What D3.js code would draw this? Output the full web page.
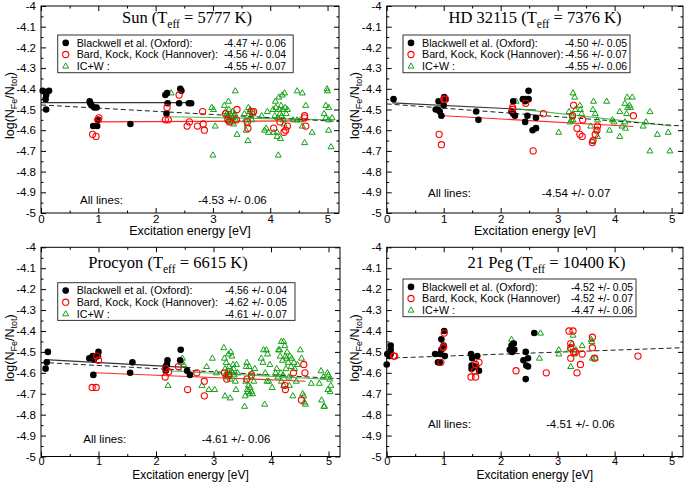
<!DOCTYPE html>
<html><head><meta charset="utf-8">
<script src="https://cdn.jsdelivr.net/npm/d3@7"></script>
<style>body{margin:0;background:#fff}svg{display:block}</style>
</head><body>
<svg id="c" width="685" height="482"></svg>
<script>
// ---------- data ----------
const xTicks = [0,1,2,3,4,5];
const xTickLabels = ["0","1","2","3","4","5"];
const yTicks = [-5,-4.9,-4.8,-4.7,-4.6,-4.5,-4.4,-4.3,-4.2,-4.1,-4];
const yTickLabels = ["-5","-4.9","-4.8","-4.7","-4.6","-4.5","-4.4","-4.3","-4.2","-4.1","-4"];
const starNames = ["Sun","HD 32115","Procyon","21 Peg"];
const teffValues = ["5777","7376","6615","10400"];
const seriesLabels = ["Blackwell et al. (Oxford):","Bard, Kock, Kock (Hannover):","IC+W :"];
const seriesLabelsPeg = ["Blackwell et al. (Oxford):","Bard, Kock, Kock (Hannover)","IC+W :"];
const sunLegend = ["-4.47 +/- 0.06","-4.56 +/- 0.04","-4.55 +/- 0.07"];
const hdLegend = ["-4.50 +/- 0.05","-4.56 +/- 0.07","-4.55 +/- 0.06"];
const procLegend = ["-4.56 +/- 0.04","-4.62 +/- 0.05","-4.61 +/- 0.07"];
const pegLegend = ["-4.52 +/- 0.05","-4.52 +/- 0.07","-4.47 +/- 0.06"];
const allLinesValues = ["-4.53 +/- 0.06","-4.54 +/- 0.07","-4.61 +/- 0.06","-4.51 +/- 0.06"];

const sunOxford = [[0.03,-4.41],[0.14,-4.41],[0.09,-4.43],[0.08,-4.45],[0.09,-4.50],
 [0.85,-4.46],[0.86,-4.47],[0.88,-4.48],[0.93,-4.49],[0.97,-4.49],[0.91,-4.58],[0.98,-4.58],[1.0,-4.55],
 [1.56,-4.57],
 [2.17,-4.43],[2.20,-4.42],[2.21,-4.47],[2.19,-4.52],[2.41,-4.47],[2.43,-4.40],[2.45,-4.41],[2.58,-4.47],[2.62,-4.47]];
const sunHannover = [[0.90,-4.62],[0.96,-4.63],[1.01,-4.54],[0.99,-4.55],
 [2.20,-4.49],[2.17,-4.55],[2.22,-4.55],[2.41,-4.43],
 [2.55,-4.58],[2.59,-4.56],[2.73,-4.58],[2.83,-4.57],[2.85,-4.60],[2.82,-4.51],
 [3.22,-4.52],[3.26,-4.55],[3.29,-4.56],[3.41,-4.55],[3.42,-4.50],[3.61,-4.59],[3.60,-4.56],[3.68,-4.51],[3.71,-4.51],
 [4.06,-4.59],[4.17,-4.56],[4.24,-4.61],[4.27,-4.60],[4.30,-4.58],[4.60,-4.53],[4.60,-4.54],[4.62,-4.58]];
const sunICW = [[2.27,-4.42],
 [2.98,-4.49],[3.01,-4.50],[3.04,-4.58],[3.00,-4.72],
 [3.20,-4.48],[3.22,-4.51],[3.24,-4.52],[3.25,-4.53],[3.27,-4.46],[3.28,-4.50],[3.29,-4.54],[3.30,-4.52],[3.31,-4.55],[3.32,-4.53],[3.33,-4.56],[3.34,-4.51],[3.35,-4.54],[3.36,-4.57],[3.37,-4.53],[3.39,-4.41],[3.40,-4.55],[3.42,-4.62],[3.29,-4.56],[3.26,-4.55],[3.38,-4.52],
 [3.55,-4.52],[3.57,-4.55],[3.58,-4.60],[3.60,-4.57],[3.61,-4.65],[3.62,-4.49],[3.64,-4.51],[3.65,-4.50],[3.66,-4.53],[3.68,-4.55],[3.70,-4.52],
 [3.85,-4.53],[3.90,-4.60],[3.93,-4.59],[3.95,-4.51],[3.97,-4.61],
 [4.05,-4.50],[4.06,-4.61],[4.08,-4.53],[4.09,-4.46],[4.10,-4.49],[4.12,-4.61],[4.13,-4.54],[4.14,-4.72],[4.15,-4.44],[4.16,-4.50],[4.17,-4.52],[4.18,-4.64],[4.19,-4.48],[4.20,-4.53],[4.21,-4.43],[4.22,-4.50],[4.23,-4.55],[4.25,-4.42],[4.26,-4.49],[4.28,-4.52],[4.30,-4.50],[4.12,-4.63],[4.24,-4.57],
 [4.40,-4.55],[4.47,-4.41],[4.47,-4.55],[4.53,-4.55],[4.56,-4.42],[4.56,-4.58],[4.60,-4.66],[4.62,-4.48],[4.73,-4.61],
 [4.94,-4.52],[4.97,-4.48],[4.97,-4.54],[4.99,-4.40],[5.00,-4.41],[5.02,-4.49],[5.02,-4.55],[5.02,-4.60],[5.06,-4.68],[5.08,-4.54]];
const sunOxfordFit = [[0,-4.467],[2.62,-4.467]];
const sunHannoverFit = [[0.95,-4.56],[4.62,-4.555]];
const sunICWFit = [[2.25,-4.535],[5.05,-4.55]];
const sunAllFit = [[0,-4.478],[5.2,-4.558]];

const hdOxford = [[0.12,-4.45],
 [0.86,-4.50],[0.90,-4.50],[0.91,-4.46],[0.93,-4.51],[0.96,-4.53],[1.00,-4.48],[1.01,-4.44],[1.03,-4.45],
 [1.57,-4.51],[1.61,-4.55],
 [2.19,-4.51],[2.22,-4.46],[2.22,-4.52],[2.25,-4.53],[2.39,-4.45],[2.43,-4.46],[2.43,-4.56],[2.45,-4.45],[2.47,-4.53],[2.49,-4.45],[2.49,-4.41],[2.56,-4.60],[2.62,-4.59],[2.62,-4.54]];
const hdHannover = [[0.92,-4.62],[0.96,-4.67],[1.00,-4.45],[1.03,-4.45],
 [2.21,-4.49],[2.21,-4.50],[2.44,-4.47],
 [2.57,-4.70],[2.75,-4.52],
 [3.26,-4.53],[3.28,-4.48],[3.34,-4.59],[3.39,-4.62],[3.43,-4.63],[3.44,-4.55],[3.61,-4.66],[3.62,-4.65],[3.66,-4.62],[3.69,-4.60],[3.70,-4.58],[4.33,-4.53]];
const hdICW = [[2.27,-4.46],[3.02,-4.61],[3.20,-4.51],[3.22,-4.56],[3.24,-4.55],[3.26,-4.53],[3.27,-4.42],[3.27,-4.55],[3.30,-4.44],[3.31,-4.50],[3.39,-4.48],[3.40,-4.50],[3.42,-4.52],
 [3.58,-4.58],[3.61,-4.65],[3.62,-4.50],[3.63,-4.46],[3.66,-4.52],[3.68,-4.60],[3.70,-4.55],[3.70,-4.63],
 [3.86,-4.46],[3.91,-4.60],[3.96,-4.55],[3.99,-4.56],[4.09,-4.51],[4.09,-4.63],[4.13,-4.58],[4.18,-4.47],[4.18,-4.56],[4.19,-4.59],[4.21,-4.52],[4.22,-4.44],[4.23,-4.49],[4.26,-4.48],[4.28,-4.49],[4.31,-4.44],
 [4.50,-4.58],[4.55,-4.56],[4.62,-4.51],[4.62,-4.70],[4.75,-4.62],[4.94,-4.61],[4.97,-4.70]];
const hdOxfordFit = [[0.1,-4.468],[2.62,-4.503]];
const hdHannoverFit = [[1.0,-4.53],[4.33,-4.582]];
const hdICWFit = [[2.3,-4.497],[5.0,-4.58]];
const hdAllFit = [[0,-4.473],[5.2,-4.58]];

const procOxford = [[0.12,-4.50],[0.10,-4.55],[0.08,-4.58],
 [0.84,-4.53],[0.90,-4.52],[0.92,-4.535],[0.99,-4.52],[1.00,-4.50],[0.91,-4.61],
 [1.59,-4.55],[1.55,-4.60],
 [2.20,-4.54],[2.17,-4.57],[2.17,-4.59],[2.19,-4.56],[2.42,-4.54],[2.43,-4.49],[2.54,-4.59],[2.59,-4.61]];
const procHannover = [[0.89,-4.67],[0.96,-4.67],[0.97,-4.52],[1.00,-4.54],
 [2.16,-4.62],[2.17,-4.58],[2.22,-4.595],[2.39,-4.57],[2.55,-4.68],[2.71,-4.60],[2.84,-4.64],[2.84,-4.71],
 [3.19,-4.60],[3.23,-4.63],[3.26,-4.61],[3.58,-4.63],[3.66,-4.61],
 [4.24,-4.66],[4.25,-4.68],[4.39,-4.60],[4.53,-4.73],[4.57,-4.56],[4.59,-4.60]];
const procICW = [[2.21,-4.66],[2.46,-4.53],[2.48,-4.56],[2.44,-4.55],
 [2.80,-4.66],[2.88,-4.57],[2.92,-4.68],[2.98,-4.53],[3.02,-4.68],[3.05,-4.60],
 [3.18,-4.48],[3.19,-4.53],[3.20,-4.58],[3.21,-4.61],[3.22,-4.55],[3.23,-4.60],[3.24,-4.62],[3.25,-4.59],[3.26,-4.51],[3.27,-4.57],[3.28,-4.61],[3.29,-4.63],[3.30,-4.50],[3.31,-4.59],[3.32,-4.52],[3.33,-4.60],[3.34,-4.56],[3.35,-4.58],[3.36,-4.61],[3.38,-4.64],[3.39,-4.68],[3.40,-4.56],[3.20,-4.71],[3.29,-4.72],[3.42,-4.60],
 [3.54,-4.76],[3.55,-4.71],[3.56,-4.64],[3.57,-4.57],[3.58,-4.55],[3.59,-4.68],[3.60,-4.69],[3.61,-4.66],[3.62,-4.57],[3.63,-4.70],[3.64,-4.67],[3.65,-4.62],[3.66,-4.69],[3.67,-4.60],[3.68,-4.70],[3.70,-4.64],[3.72,-4.58],
 [3.83,-4.53],[3.86,-4.55],[3.87,-4.49],[3.89,-4.75],[3.90,-4.60],[3.92,-4.49],[3.93,-4.64],[3.94,-4.51],[3.96,-4.64],[3.98,-4.56],[4.02,-4.67],
 [4.08,-4.60],[4.10,-4.58],[4.12,-4.62],[4.13,-4.49],[4.15,-4.49],[4.16,-4.52],[4.17,-4.60],[4.18,-4.45],[4.18,-4.64],[4.20,-4.54],[4.21,-4.61],[4.22,-4.45],[4.22,-4.66],[4.24,-4.47],[4.25,-4.52],[4.26,-4.58],[4.27,-4.53],[4.28,-4.50],[4.30,-4.55],[4.31,-4.62],[4.32,-4.66],[4.33,-4.52],[4.35,-4.57],[4.36,-4.53],[4.38,-4.71],[4.40,-4.55],[4.41,-4.58],[4.44,-4.64],[4.46,-4.56],
 [4.51,-4.49],[4.53,-4.53],[4.55,-4.70],[4.57,-4.71],[4.58,-4.74],[4.60,-4.75],[4.70,-4.65],
 [4.84,-4.65],[4.87,-4.59],[4.88,-4.73],[4.91,-4.62],[4.92,-4.76],[4.93,-4.76],[4.98,-4.60],[5.00,-4.61],[5.02,-4.63],[5.03,-4.69],[5.04,-4.66],[4.99,-4.68]];
const procOxfordFit = [[0.07,-4.537],[2.6,-4.575]];
const procHannoverFit = [[0.93,-4.60],[4.6,-4.64]];
const procICWFit = [[2.2,-4.59],[5.05,-4.632]];
const procAllFit = [[0,-4.55],[5.2,-4.628]];

const pegOxford = [[0.00,-4.56],[0.01,-4.51],[0.05,-4.52],[0.07,-4.47],[0.07,-4.49],[0.07,-4.51],
 [0.85,-4.51],[0.90,-4.55],[0.94,-4.51],[0.96,-4.49],[0.96,-4.44],[1.00,-4.47],[1.01,-4.40],[1.02,-4.52],[0.93,-4.55],
 [1.48,-4.51],[1.50,-4.53],[1.49,-4.565],[1.49,-4.58],[1.53,-4.57],[1.57,-4.57],[1.59,-4.52],[1.62,-4.59],
 [2.16,-4.49],[2.19,-4.47],[2.23,-4.46],[2.20,-4.50],[2.24,-4.49],
 [2.59,-4.41],[2.44,-4.50],[2.40,-4.54],[2.48,-4.53],[2.45,-4.565],[2.48,-4.57],[2.44,-4.63]];
const pegHannover = [[0.12,-4.52],[0.14,-4.52],
 [0.95,-4.55],[0.99,-4.48],[1.01,-4.41],[1.00,-4.475],
 [1.48,-4.62],[1.56,-4.62],[1.54,-4.59],[1.56,-4.56],[1.62,-4.55],
 [2.27,-4.59],[2.80,-4.60],
 [3.20,-4.40],[3.27,-4.40],[3.23,-4.46],[3.23,-4.48],[3.23,-4.53],[3.28,-4.50],[3.31,-4.50],[3.34,-4.60],[3.40,-4.56],[3.43,-4.51],[3.61,-4.43],[3.61,-4.48],[3.65,-4.53],[4.41,-4.52]];
const pegICW = [[2.19,-4.44],[2.20,-4.46],[2.70,-4.41],[2.68,-4.53],[3.02,-4.49],[3.02,-4.51],[3.20,-4.49],[3.23,-4.57],[3.27,-4.42],[3.25,-4.46],[3.29,-4.51],[3.32,-4.49],[3.43,-4.47],[3.59,-4.44],[3.60,-4.45],[3.61,-4.53],[3.66,-4.53]];
const pegAllFit = [[0,-4.53],[5.2,-4.48]];

// ---------- layout ----------
const panels = [
 {name:starNames[0], teff:teffValues[0], ox:sunOxford, ha:sunHannover, ic:sunICW,
  fits:[sunOxfordFit,sunHannoverFit,sunICWFit], all:sunAllFit, labels:seriesLabels, leg:sunLegend, allv:allLinesValues[0],
  L:41, R:339, T:6, B:213, xtY:235, xtF:12.5, tkF:11.5, tkP:2, titleX:187, titleY:23, lx:57.7, ly:35, lw:235.5, vEnd:286, allY:204, allX:80, allVX:198},
 {name:starNames[1], teff:teffValues[1], ox:hdOxford, ha:hdHannover, ic:hdICW,
  fits:[hdOxfordFit,hdHannoverFit,hdICWFit], all:hdAllFit, labels:seriesLabels, leg:hdLegend, allv:allLinesValues[1],
  L:386.7, R:683, T:6, B:213, xtY:235, xtF:12.5, tkF:11.5, tkP:2, titleX:535, titleY:23, lx:403, ly:35, lw:227, vEnd:627, allY:197, allX:428, allVX:541.7},
 {name:starNames[2], teff:teffValues[2], ox:procOxford, ha:procHannover, ic:procICW,
  fits:[procOxfordFit,procHannoverFit,procICWFit], all:procAllFit, labels:seriesLabels, leg:procLegend, allv:allLinesValues[2],
  L:41, R:340, T:247.3, B:456.5, xtY:479, xtF:12, tkF:11, tkP:1, titleX:168, titleY:268, lx:57.7, ly:282.7, lw:237.3, vEnd:287, allY:443, allX:83.3, allVX:201.7},
 {name:starNames[3], teff:teffValues[3], ox:pegOxford, ha:pegHannover, ic:pegICW,
  fits:[], all:pegAllFit, labels:seriesLabelsPeg, leg:pegLegend, allv:allLinesValues[3],
  L:386.7, R:683, T:247.3, B:456.5, xtY:479, xtF:12, tkF:11, tkP:1, titleX:546.5, titleY:268, lx:403, ly:279, lw:233, vEnd:633, allY:428, allX:428, allVX:546}
];

const RED = "#ff0000", GREEN = "#14a014", GREENLINE = "#2db42d", BLACK = "#000";
const SANS = "'Liberation Sans', Arial, sans-serif";
const SERIF = "'Liberation Serif', 'Times New Roman', serif";
const svg = d3.select("#c");
const tri = (g, x, y, col) => g.append("path")
  .attr("d", `M${x},${y-3.2}L${x+3},${y+2}L${x-3},${y+2}Z`)
  .attr("fill","none").attr("stroke",col).attr("stroke-width",1);
const minorY = d3.range(0,10).map(i=>-4.95+i*0.1);
const minorX = [0.5,1.5,2.5,3.5,4.5];

panels.forEach(p => {
  const xs = d3.scaleLinear().domain([0,5.2]).range([p.L,p.R]);
  const ys = d3.scaleLinear().domain([-5,-4]).range([p.B,p.T]);
  const g = svg.append("g");
  const fontAxis = (s,f) => s.selectAll("text").attr("font-family",SANS).attr("font-size",f+"px").attr("fill","#000");
  const la = g.append("g").attr("transform",`translate(${p.L},0)`)
    .call(d3.axisLeft(ys).tickValues(yTicks).tickFormat((d,i)=>yTickLabels[i]).tickSize(-5).tickSizeOuter(0).tickPadding(5));
  fontAxis(la, 11.5); la.select(".domain").remove();
  g.append("g").attr("transform",`translate(${p.L},0)`)
    .call(d3.axisLeft(ys).tickValues(minorY).tickFormat("").tickSize(-2.5).tickSizeOuter(0)).select(".domain").remove();
  g.append("g").attr("transform",`translate(${p.R},0)`)
    .call(d3.axisRight(ys).tickValues(yTicks).tickFormat("").tickSize(-5).tickSizeOuter(0)).select(".domain").remove();
  g.append("g").attr("transform",`translate(${p.R},0)`)
    .call(d3.axisRight(ys).tickValues(minorY).tickFormat("").tickSize(-2.5).tickSizeOuter(0)).select(".domain").remove();
  const ba = g.append("g").attr("transform",`translate(0,${p.B})`)
    .call(d3.axisBottom(xs).tickValues(xTicks).tickFormat((d,i)=>xTickLabels[i]).tickSize(-5).tickSizeOuter(0).tickPadding(p.tkP));
  fontAxis(ba, p.tkF); ba.select(".domain").remove();
  g.append("g").attr("transform",`translate(0,${p.B})`)
    .call(d3.axisBottom(xs).tickValues(minorX).tickFormat("").tickSize(-2.5).tickSizeOuter(0)).select(".domain").remove();
  g.append("g").attr("transform",`translate(0,${p.T})`)
    .call(d3.axisTop(xs).tickValues(xTicks).tickFormat("").tickSize(-5).tickSizeOuter(0)).select(".domain").remove();
  g.append("g").attr("transform",`translate(0,${p.T})`)
    .call(d3.axisTop(xs).tickValues(minorX).tickFormat("").tickSize(-2.5).tickSizeOuter(0)).select(".domain").remove();
  g.selectAll(".tick line").attr("stroke","#000");
  g.append("rect").attr("x",p.L).attr("y",p.T).attr("width",p.R-p.L).attr("height",p.B-p.T)
    .attr("fill","none").attr("stroke","#000").attr("stroke-width",1);

  g.append("text").attr("x",(p.L+p.R)/2).attr("y",p.xtY).attr("text-anchor","middle")
    .attr("font-family",SANS).attr("font-size",p.xtF+"px").text("Excitation energy [eV]");
  const yl = g.append("text").attr("transform",`translate(${p.L-27.5},${(p.T+p.B)/2-4}) rotate(-90)`)
    .attr("text-anchor","middle").attr("font-family",SANS).attr("font-size","12.5px");
  yl.append("tspan").text("log(N");
  yl.append("tspan").attr("font-size","9px").attr("dy",3).text("Fe");
  yl.append("tspan").attr("dy",-3).text("/N");
  yl.append("tspan").attr("font-size","9px").attr("dy",3).text("tot");
  yl.append("tspan").attr("dy",-3).text(")");

  const t = g.append("text").attr("x",p.titleX).attr("y",p.titleY).attr("text-anchor","middle")
    .attr("font-family",SERIF).attr("font-size","16.5px");
  t.append("tspan").text(p.name + " (T");
  t.append("tspan").attr("font-size","11.5px").attr("dy",4.5).text("eff");
  t.append("tspan").attr("dy",-4.5).text(" = " + p.teff + " K)");

  const line = d3.line().x(d=>xs(d[0])).y(d=>ys(d[1]));
  const fitCols = [BLACK, RED, GREENLINE];
  p.fits.forEach((f,i)=> g.append("path").attr("d",line(f)).attr("fill","none")
     .attr("stroke",fitCols[i]).attr("stroke-width",1.1).attr("stroke-opacity", i===0?0.8:0.85));
  g.append("path").attr("d",line(p.all)).attr("fill","none").attr("stroke","#222")
    .attr("stroke-width",1).attr("stroke-dasharray","5,3");

  p.ic.forEach(d => tri(g, xs(d[0]), ys(d[1]), GREEN));
  p.ox.forEach(d => g.append("circle").attr("cx",xs(d[0])).attr("cy",ys(d[1])).attr("r",3.3).attr("fill","#000"));
  p.ha.forEach(d => g.append("circle").attr("cx",xs(d[0])).attr("cy",ys(d[1])).attr("r",3.1)
     .attr("fill","none").attr("stroke",RED).attr("stroke-width",1.1));

  g.append("rect").attr("x",p.lx).attr("y",p.ly).attr("width",p.lw).attr("height",37.7)
    .attr("fill","#fff").attr("stroke","#333").attr("stroke-width",1);
  [0,1,2].forEach(i => {
    const by = p.ly + 11.7 + i*11.6;
    const mx = p.lx + 8, my = by - 3.8;
    if (i===0) g.append("circle").attr("cx",mx).attr("cy",my).attr("r",3.3).attr("fill","#000");
    if (i===1) g.append("circle").attr("cx",mx).attr("cy",my).attr("r",3.1).attr("fill","none").attr("stroke",RED).attr("stroke-width",1.1);
    if (i===2) tri(g, mx, my, GREEN);
    g.append("text").attr("x",p.lx+19).attr("y",by).attr("font-family",SANS).attr("font-size","10.7px").text(p.labels[i]);
    g.append("text").attr("x",p.vEnd).attr("y",by).attr("text-anchor","end")
      .attr("font-family",SANS).attr("font-size","10.4px").text(p.leg[i]);
  });

  g.append("text").attr("x",p.allX).attr("y",p.allY).attr("font-family",SANS).attr("font-size","11.5px").text("All lines:");
  g.append("text").attr("x",p.allVX).attr("y",p.allY).attr("font-family",SANS).attr("font-size","11.5px").text(p.allv);
});
</script>
</body></html>
